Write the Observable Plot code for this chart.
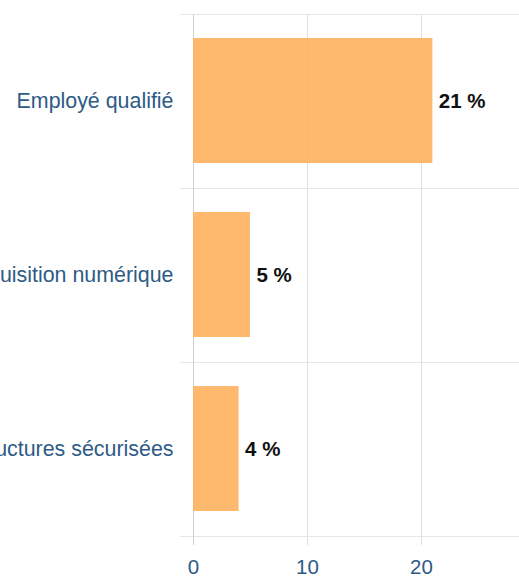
<!DOCTYPE html>
<html>
<head>
<meta charset="utf-8">
<script src="https://cdn.jsdelivr.net/npm/d3@7"></script>
<script src="https://cdn.jsdelivr.net/npm/@observablehq/plot@0.6"></script>
<style>
  html, body { margin: 0; padding: 0; background: white; }
  #chart { width: 519px; height: 577px; overflow: hidden; }
</style>
</head>
<body>
<div id="chart"></div>
<script>
const categories = ["Employé qualifié", "Acquisition numérique", "Infrastructures sécurisées"];
const values = [21, 5, 4];
const xTicks = [0, 10, 20];

const rows = categories.map((name, i) => ({name, value: values[i]}));
const step = (536 - 14) / categories.length;

const chart = Plot.plot({
  width: 519,
  height: 577,
  marginTop: 14,
  marginBottom: 32,
  marginLeft: 180,
  marginRight: 0,
  style: {fontFamily: "'Liberation Sans', Arial, sans-serif", background: "white"},
  x: {domain: [0, 28.6], range: [193, 519], ticks: xTicks},
  y: {domain: categories, range: [14, 536], padding: 0},
  marks: [
    Plot.ruleX(xTicks.filter(d => d !== 0), {stroke: "#e0e0e0", strokeWidth: 1}),
    Plot.ruleY(categories, {y: d => d, dy: -step / 2, stroke: "#e6e6e6"}),
    Plot.ruleY(categories.slice(-1), {y: d => d, dy: step / 2, stroke: "#e6e6e6"}),
    Plot.ruleX([0], {stroke: "#d0d0d0", strokeWidth: 1}),
    Plot.barX(rows, {x: "value", y: "name", fill: "#ffb15e", fillOpacity: 0.9, insetTop: 24, insetBottom: 25}),
    Plot.text(rows, {
      x: "value", y: "name", text: d => `${d.value} %`,
      textAnchor: "start", dx: 6, fontSize: 20.5, fontWeight: "bold",
      fill: "#111", stroke: "white", strokeWidth: 1.5
    }),
    Plot.axisY({tickSize: 0, tickPadding: 7, fontSize: 21.4, fill: "#2e5b86", label: null}),
    Plot.axisX(xTicks, {tickSize: 0, tickPadding: 14, fontSize: 20.5, fill: "#2e5b86", label: null})
  ]
});
document.getElementById("chart").append(chart);
</script>
</body>
</html>
